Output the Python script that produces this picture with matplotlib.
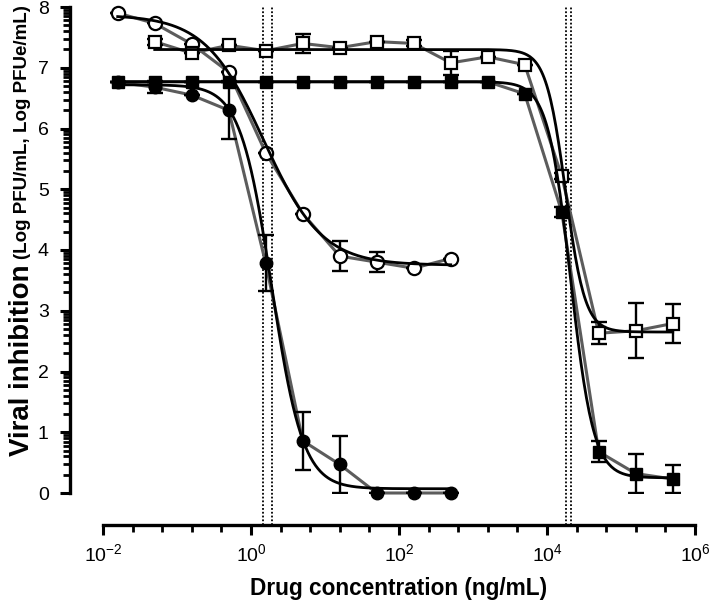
import numpy as np
import matplotlib
matplotlib.use('Agg')
import matplotlib.pyplot as plt
from matplotlib.ticker import FixedLocator, NullFormatter

plt.rcParams['font.family'] = ['Liberation Sans', 'DejaVu Sans']
plt.rcParams['mathtext.fontset'] = 'custom'
plt.rcParams['mathtext.rm'] = 'Liberation Sans'
plt.rcParams['mathtext.it'] = 'Liberation Sans'
plt.rcParams['mathtext.bf'] = 'Liberation Sans:bold'

# half-log dilution series (ng/mL)
conc_circ = [0.0158, 0.05, 0.158, 0.5, 1.58, 5, 15.8, 50, 158, 500]
open_circ = [7.90, 7.73, 7.39, 6.93, 5.60, 4.60, 3.90, 3.80, 3.70, 3.86]
open_circ_err = [0, 0, 0, 0, 0, 0, 0.25, 0.17, 0, 0]
filled_circ = [6.76, 6.68, 6.55, 6.30, 3.78, 0.86, 0.47, 0.0, 0.0, 0.0]
filled_circ_err = [0, 0.10, 0, 0.48, 0.46, 0.48, 0.47, 0, 0, 0]

conc_sq = [0.0158, 0.05, 0.158, 0.5, 1.58, 5, 15.8, 50, 158, 500, 1580, 5000,
           15800, 50000, 158000, 500000]
filled_sq = [6.77, 6.77, 6.77, 6.77, 6.77, 6.77, 6.77, 6.77, 6.77, 6.77, 6.77,
             6.57, 4.63, 0.68, 0.32, 0.23]
filled_sq_err = [0, 0, 0, 0, 0, 0, 0, 0, 0, 0, 0, 0, 0.08, 0.17, 0.32, 0.23]
conc_osq = conc_sq[1:]
open_sq = [7.43, 7.24, 7.37, 7.28, 7.40, 7.33, 7.43, 7.40, 7.08, 7.18, 7.05,
           5.22, 2.63, 2.67, 2.79]
open_sq_err = [0.05, 0, 0, 0, 0.16, 0, 0, 0.05, 0.2, 0, 0, 0.05, 0.18, 0.45, 0.32]

# four-parameter fits: top, bottom, logEC50, hill
fit_open_circ = (7.87, 3.75, 0.17, 1.1)
fit_filled_circ = (6.72, 0.07, 0.28, 2.05)
fit_open_sq = (7.30, 2.65, 4.25, 3.3)
fit_filled_sq = (6.77, 0.25, 4.32, 2.8)

ec50_lines = [1.46, 1.9, 17800, 21000]


def four_pl(x, p):
    top, bottom, c, h = p
    return bottom + (top - bottom) / (1 + 10 ** (h * (np.log10(x) - c)))


fig = plt.figure(figsize=(7.09, 6.04), dpi=100)
ax = fig.add_axes([103 / 709, 111 / 604, 592 / 709, 486 / 604])

grey = '#5c5c5c'
ax.plot(conc_circ, open_circ, color=grey, lw=2.2, zorder=2, clip_on=False)
ax.plot(conc_circ, filled_circ, color=grey, lw=2.2, zorder=2, clip_on=False)
ax.plot(conc_sq, filled_sq, color=grey, lw=2.2, zorder=2, clip_on=False)
ax.plot(conc_osq, open_sq, color=grey, lw=2.2, zorder=2, clip_on=False)

eb = dict(fmt='none', ecolor='black', elinewidth=1.7, capsize=5.5, capthick=1.7, zorder=3)
ax.errorbar(conc_circ, open_circ, yerr=open_circ_err, **eb)
ax.errorbar(conc_circ, filled_circ, yerr=filled_circ_err, **eb)
ax.errorbar(conc_sq, filled_sq, yerr=filled_sq_err, **eb)
ax.errorbar(conc_osq, open_sq, yerr=open_sq_err, **eb)

ax.plot(conc_circ, open_circ, 'o', ms=9.5, mfc='white', mec='black', mew=1.6, zorder=4, clip_on=False)
ax.plot(conc_circ, filled_circ, 'o', ms=9, mfc='black', mec='black', zorder=4, clip_on=False)
ax.plot(conc_sq, filled_sq, 's', ms=8.5, mfc='black', mec='black', zorder=4, clip_on=False)
ax.plot(conc_osq, open_sq, 's', ms=9, mfc='white', mec='black', mew=1.6, zorder=4, clip_on=False)

for p, x in [(fit_open_circ, conc_circ), (fit_filled_circ, conc_circ),
             (fit_open_sq, conc_osq), (fit_filled_sq, conc_sq)]:
    xs = np.logspace(np.log10(x[0]), np.log10(x[-1]), 400)
    ax.plot(xs, four_pl(xs, p), color='black', lw=2.0, zorder=5, clip_on=False)

for v in ec50_lines:
    ax.axvline(v, ymin=-32 / 486, ymax=1, color='black', lw=1.3,
               ls=(0, (1, 1.1)), zorder=1, clip_on=False)

ax.set_xscale('log')
ax.set_xlim(1e-2, 1e6)
ax.set_ylim(0, 8)

ax.spines['top'].set_visible(False)
ax.spines['right'].set_visible(False)
ax.spines['left'].set_position(('outward', 24))
ax.spines['bottom'].set_position(('outward', 23))
ax.spines['left'].set_linewidth(2.4)
ax.spines['bottom'].set_linewidth(2.4)

ax.xaxis.set_major_locator(FixedLocator([1e-2, 1, 1e2, 1e4, 1e6]))
ax.set_xticklabels(['10$^{\u22122}$', '10$^{0}$', '10$^{2}$', '10$^{4}$', '10$^{6}$'])
xminor = [10 ** e for e in np.arange(-2, 6.01, 0.4) if abs(e - round(e / 2) * 2) > 0.01]
ax.xaxis.set_minor_locator(FixedLocator(xminor))
ax.xaxis.set_minor_formatter(NullFormatter())

ax.set_yticks(range(0, 9))
yminor = [n + np.log10(k) for n in range(8) for k in range(2, 10)]
ax.yaxis.set_minor_locator(FixedLocator(yminor))

ax.tick_params(axis='both', which='major', length=7, width=2.2, labelsize=14, color='black')
ax.tick_params(axis='both', which='minor', length=5, width=2.0)
ax.tick_params(axis='y', which='major', pad=8)
ax.tick_params(axis='x', which='major', pad=6)

ax.set_xlabel('Drug concentration (ng/mL)', fontsize=16.3, fontweight='bold', labelpad=9)

fig.text(22 / 709, 1 - 456 / 604, 'Viral inhibition', rotation=90, fontsize=20,
         fontweight='bold', ha='center', va='bottom')
fig.text(23 / 709, 1 - 259 / 604, '(Log PFU/mL, Log PFUe/mL)', rotation=90, fontsize=13.5,
         fontweight='bold', ha='center', va='bottom')

plt.savefig('out.png', dpi=100)
